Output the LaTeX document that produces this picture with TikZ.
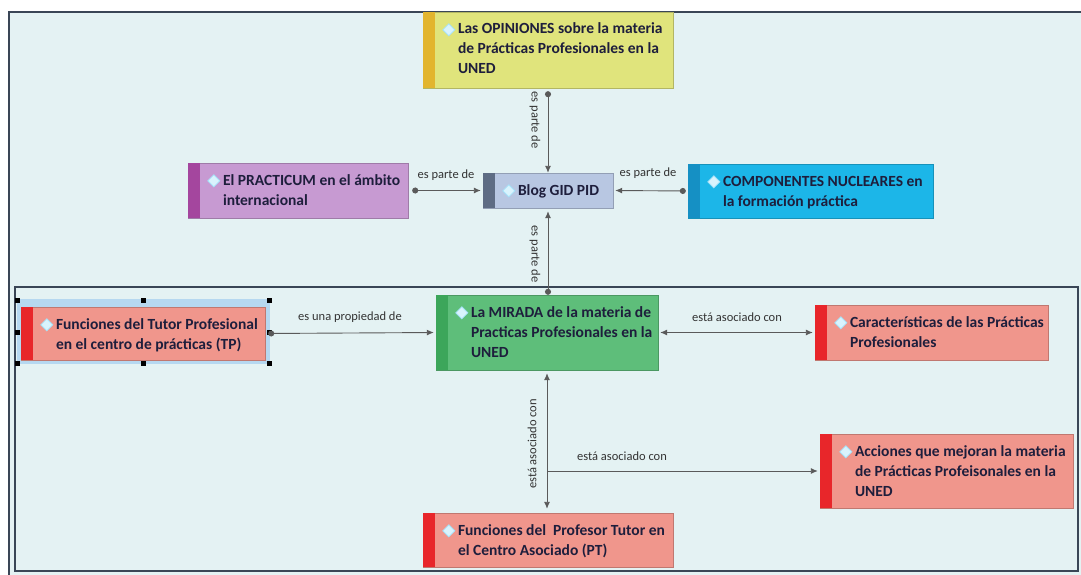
\documentclass[tikz,border=0pt]{standalone}
\usepackage{fontspec}
\setmainfont{Carlito}
\usetikzlibrary{arrows.meta}
\definecolor{bgc}{HTML}{E4F2F3}
\definecolor{framec}{HTML}{3A4656}
\definecolor{txtc}{HTML}{1E1E3C}
\definecolor{lblc}{HTML}{333333}
\definecolor{linec}{HTML}{5A5A5A}
\definecolor{yelf}{HTML}{E0E47C}
\definecolor{yels}{HTML}{E2B52E}
\definecolor{purf}{HTML}{C79AD2}
\definecolor{purs}{HTML}{A4469E}
\definecolor{bluf}{HTML}{B8C7E2}
\definecolor{blus}{HTML}{5E6C84}
\definecolor{cyaf}{HTML}{1CB6E8}
\definecolor{cyas}{HTML}{1590C4}
\definecolor{salf}{HTML}{F0968C}
\definecolor{sals}{HTML}{E8262A}
\definecolor{grnf}{HTML}{5EBE7A}
\definecolor{grns}{HTML}{3CA65A}
\definecolor{selc}{HTML}{B6D8F0}
\tikzset{
  box/.style={draw=#1!80!black, line width=0.4pt, fill=#1, inner sep=0pt},
  txt/.style={font=\bfseries\fontsize{15.5}{20}\selectfont, text=txtc, align=left, inner sep=0pt},
  lbl/.style={font=\fontsize{12.5}{14}\selectfont, text=lblc, inner sep=1pt},
  diam/.style={draw=cyan!35, fill=white!85!cyan, line width=0.8pt, minimum size=8.5pt, inner sep=0pt, rotate=45},
  conn/.style={draw=linec, line width=0.9pt},
  handle/.style={fill=black, minimum size=5pt, inner sep=0pt},
}
% name, x1, y1, x2, y2, fill, stripe, text
\newcommand{\cbox}[8]{%
  \node[box=#6, minimum width={(#4-#2)*1pt}, minimum height={(#5-#3)*1pt}] (#1) at ({(#2+#4)/2},{(#3+#5)/2}) {};
  \fill[#7] ([shift={(0.2pt,-0.2pt)}]#1.north west) rectangle ([xshift=12pt,yshift=0.2pt]#1.south west);
  \node[diam] (#1d) at ([xshift=26pt,yshift=-18pt]#1.north west) {};
  \node[txt, anchor=north west] (#1t) at ([xshift=35pt,yshift=-10pt]#1.north west) {\rule{0pt}{12pt}#8};
}
\begin{document}
\begin{tikzpicture}[x=1pt,y=-1pt]
\useasboundingbox (0,0) rectangle (1081,575);
% background and frames
\fill[white] (0,0) rectangle (1081,575);
\fill[bgc] (9,12) rectangle (1081,575);
\draw[framec, line width=1.2pt] (1081,12) -- (9,12) -- (9,575);
\draw[framec, line width=1.2pt] (15,287) rectangle (1078,571);

% selection highlight of TP
\fill[selc] (17,299) rectangle (270,364);

% boxes
\cbox{opin}{423}{12}{673}{88}{yelf}{yels}{Las OPINIONES sobre la materia\\de Prácticas Profesionales en la\\UNED}
\cbox{prac}{188}{163}{408}{218}{purf}{purs}{El PRACTICUM en el ámbito\\internacional}
\cbox{blog}{483}{173}{613}{208}{bluf}{blus}{Blog GID PID}
\cbox{comp}{688}{164}{933}{218}{cyaf}{cyas}{COMPONENTES NUCLEARES en\\la formación práctica}
\cbox{ftp}{21}{307}{265}{360}{salf}{sals}{Funciones del Tutor Profesional\\en el centro de prácticas (TP)}
\cbox{mir}{436}{295}{658}{370}{grnf}{grns}{La MIRADA de la materia de\\Practicas Profesionales en la\\UNED}
\cbox{car}{815}{305}{1048}{360}{salf}{sals}{Características de las Prácticas\\Profesionales}
\cbox{acc}{820}{434}{1073}{508}{salf}{sals}{Acciones que mejoran la materia\\de Prácticas Profeisonales en la\\UNED}
\cbox{fpt}{423}{513}{673}{567}{salf}{sals}{Funciones del~ Profesor Tutor en\\el Centro Asociado (PT)}

% selection handles
\foreach \hx in {17,143,269} {
  \node[handle] at (\hx,300) {};
  \node[handle] at (\hx,363) {};
}
\node[handle] at (17,332) {};
\node[handle] at (269,332) {};

% connectors
\draw[conn, {Circle[length=6pt]}-{Latex[length=7pt,width=6pt]}, shorten <=3pt] (opin.south) -- (blog.north);
\node[lbl, rotate=-90] (l1) at (535,120) {es parte de};

\draw[conn, {Latex[length=7pt,width=6pt]}-{Circle[length=6pt]}, shorten <=3pt] (blog.south) -- (blog.south |- mir.north);
\node[lbl, rotate=-90] (l2) at (535,254) {es parte de};

\draw[conn, {Circle[length=6pt]}-{Latex[length=7pt,width=6pt]}, shorten <=4pt, shorten >=2pt] (prac.east) -- (blog.west);
\node[lbl] (l3) at (446,175) {es parte de};

\draw[conn, {Circle[length=6pt]}-{Latex[length=7pt,width=6pt]}, shorten <=2pt, shorten >=2pt] (comp.west) -- (blog.east);
\node[lbl] (l4) at (648,173) {es parte de};

\draw[conn, {Circle[length=6pt]}-{Latex[length=7pt,width=6pt]}, shorten <=3pt, shorten >=2pt] (ftp.east) -- (mir.west);
\node[lbl] (l5) at (350,317) {es una propiedad de};

\draw[conn, {Latex[length=7pt,width=6pt]}-{Latex[length=7pt,width=6pt]}, shorten <=2pt, shorten >=2pt] (mir.east) -- (car.west);
\node[lbl] (l6) at (737,317) {está asociado con};

\draw[conn, {Latex[length=7pt,width=6pt]}-{Latex[length=7pt,width=6pt]}, shorten <=3pt, shorten >=4pt] (mir.south) -- (mir.south |- fpt.north);
\node[lbl, rotate=90] (l7) at (532,444) {está asociado con};

\coordinate (br) at (mir.south |- acc.west);
\draw[conn, -{Latex[length=7pt,width=6pt]}, shorten >=2pt] (br) -- (acc.west);
\node[lbl] (l8) at (622,456) {está asociado con};
\end{tikzpicture}
\end{document}
